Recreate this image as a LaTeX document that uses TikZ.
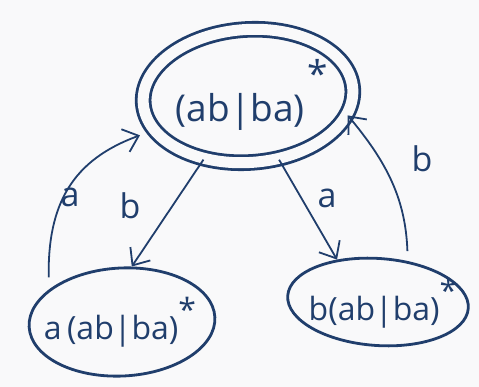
\documentclass[tikz,border=0pt]{standalone}
\usepackage{fontspec}
\setmainfont{Open Sans}
\usetikzlibrary{shapes.geometric,arrows.meta}
\definecolor{ink}{RGB}{32,62,108}
\definecolor{paper}{RGB}{249,249,250}
\begin{document}
\begin{tikzpicture}[x=1pt,y=-1pt,
  state/.style={ellipse,draw=ink,line width=2.8pt,inner sep=0pt},
  expr/.style={text=ink,font=\fontsize{37}{40}\selectfont,inner sep=0pt},
  edge/.style={draw=ink,line width=1.8pt,-{Straight Barb[length=14pt,width=24pt,line width=1.8pt]}},
  lbl/.style={text=ink,font=\fontsize{34}{36}\selectfont}]
\fill[paper] (0,0) rectangle (479,387);
\useasboundingbox (0,0) rectangle (479,387);
\node[state,double=paper,double distance=11pt,minimum width=210pt,minimum height=133pt,rotate=4] (top) at (248,96) {};
\node[expr] (toptext) at (252,95) {(ab|ba)\hspace{3pt}\raisebox{0.9em}{*}};
\node[state,minimum width=186pt,minimum height=108pt,rotate=3] (bl) at (122,322) {};
\node[expr,font=\fontsize{32}{34}\selectfont] (bltext) at (120,322) {a\,(ab|ba)\raisebox{0.55em}{*}};
\node[state,minimum width=181pt,minimum height=87pt,rotate=-4] (br) at (378,302) {};
\node[expr,font=\fontsize{32}{34}\selectfont] (brtext) at (383,303) {b(ab|ba)\raisebox{0.55em}{*}};
\draw[edge] (top.231) -- (bl.77);
\draw[edge] (top.292) -- (br.138);
\draw[edge,shorten <=12pt,shorten >=14pt] (bl.153) to[out=91,in=200,looseness=1.15] (top.196);
\draw[edge,shorten <=10pt] (br.58) to[out=92,in=-50] (top.345);
\node[lbl] (la1) at (70,197) {a};
\node[lbl] (lb1) at (130,206) {b};
\node[lbl] (la2) at (327,198) {a};
\node[lbl] (lb2) at (422,159) {b};
\end{tikzpicture}
\end{document}
